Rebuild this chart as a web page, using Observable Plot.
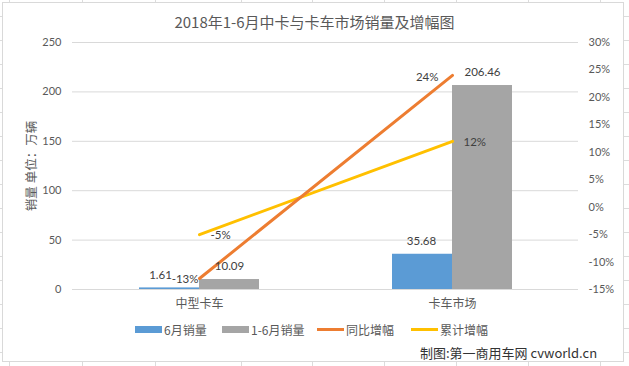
<!DOCTYPE html>
<html>
<head>
<meta charset="utf-8">
<script src="https://cdn.jsdelivr.net/npm/d3@7"></script>
<script src="https://cdn.jsdelivr.net/npm/@observablehq/plot@0.6"></script>
<style>
  body { margin: 0; background: #fff; }
  #wrap { position: relative; width: 629px; height: 366px; overflow: hidden; font-family: Lato, "Noto Sans CJK SC", sans-serif; background: #fff; }
  .gl { position: absolute; background: #dcdcdc; }
  #card { position: absolute; left: 2px; top: 2px; width: 620px; height: 358px; border: 1px solid #d9d9d9; background: #fff; }
  #chart { position: absolute; left: 0; top: 0; }
  #title { position: absolute; left: 0; width: 629px; top: 11px; text-align: center; font-size: 15px; color: #595959; font-family: "Noto Sans CJK SC", sans-serif; line-height: 22px; }
  #ylabel { position: absolute; left: 30px; top: 166px; transform: translate(-50%, -50%) rotate(-90deg); white-space: nowrap; font-size: 12.5px; color: #595959; font-family: "Noto Sans CJK SC", sans-serif; }
  #legend { position: absolute; top: 320px; left: 0; height: 18px; }
  .lg { position: absolute; top: 0; height: 18px; display: flex; align-items: center; font-size: 12px; color: #595959; font-family: "Noto Sans CJK SC", sans-serif; white-space: nowrap; }
  .sw { width: 27px; margin-right: 2px; }
  #footer { position: absolute; left: 420px; top: 343px; font-size: 13px; color: #333; font-family: "Noto Sans CJK SC", sans-serif; white-space: nowrap; line-height: 20px; }
</style>
</head>
<body>
<div id="wrap">
  <div id="bg"></div>
  <div id="card"></div>
  <div id="chart"></div>
  <div id="title"></div>
  <div id="ylabel"></div>
  <div id="legend"></div>
  <div id="footer"></div>
</div>
<script>
// ---- data ----
const titleText = "2018年1-6月中卡与卡车市场销量及增幅图";
const yAxisTitle = "销量 单位：万辆";
const footerText = "制图:第一商用车网 cvworld.cn";
const categories = ["中型卡车", "卡车市场"];
const juneSales = [1.61, 35.68];
const h1Sales = [10.09, 206.46];
const yoyGrowth = [-13, 24];
const cumGrowth = [-5, 12];
const leftTicks = [0, 50, 100, 150, 200, 250];
const rightTicks = [-15, -10, -5, 0, 5, 10, 15, 20, 25, 30];
const seriesNames = ["6月销量", "1-6月销量", "同比增幅", "累计增幅"];
const seriesColors = ["#5B9BD5", "#A5A5A5", "#ED7D31", "#FFC000"];

// ---- background spreadsheet grid (decoration) ----
const bg = document.getElementById("bg");
[9, 82, 155, 241, 312, 384, 456, 528, 600].forEach(x => {
  const d = document.createElement("div"); d.className = "gl";
  Object.assign(d.style, { left: x + "px", top: "0px", width: "1px", height: "366px" }); bg.appendChild(d);
});
for (let y = 16; y < 366; y += 24) {
  const d = document.createElement("div"); d.className = "gl";
  Object.assign(d.style, { left: "0px", top: y + "px", width: "629px", height: "1px" }); bg.appendChild(d);
}

document.getElementById("title").textContent = titleText;
document.getElementById("ylabel").textContent = yAxisTitle;
document.getElementById("footer").textContent = footerText;

// legend
const legendX = [135, 222, 317, 411];
const lg = document.getElementById("legend");
seriesNames.forEach((name, i) => {
  const item = document.createElement("div"); item.className = "lg";
  item.style.left = legendX[i] + "px";
  const sw = document.createElement("div"); sw.className = "sw";
  sw.style.background = seriesColors[i];
  sw.style.height = i < 2 ? "7px" : "3px";
  const tx = document.createElement("span"); tx.textContent = name;
  item.appendChild(sw); item.appendChild(tx); lg.appendChild(item);
});

// ---- chart ----
const rows = categories.map((c, i) => ({ cat: c, june: juneSales[i], h1: h1Sales[i], yoy: yoyGrowth[i], cum: cumGrowth[i] }));
const toY = p => (p + 15) * 250 / 45;
const fromY = v => Math.round(v * 45 / 250 - 15);
const half = 60;

const chart = Plot.plot({
  width: 629, height: 366,
  marginTop: 42, marginBottom: 77, marginLeft: 72, marginRight: 51,
  x: { domain: categories, paddingInner: 0.526, paddingOuter: 0.263 },
  y: { domain: [0, 250] },
  style: { fontFamily: "Lato, 'Noto Sans CJK SC', sans-serif", fontSize: "11px", color: "#595959", background: "transparent" },
  marks: [
    Plot.gridY(leftTicks, { stroke: "#D9D9D9", strokeOpacity: 1 }),
    Plot.axisY(leftTicks, { anchor: "left", tickSize: 0, tickPadding: 11, label: null, fill: "#595959" }),
    Plot.axisY(rightTicks.map(toY), { anchor: "right", tickSize: 0, tickPadding: 10, label: null, fill: "#595959", tickFormat: v => fromY(v) + "%" }),
    Plot.axisX({ tickSize: 0, tickPadding: 10, label: null, fontSize: 12, fill: "#595959", fontFamily: "Noto Sans CJK SC, sans-serif" }),
    Plot.barY(rows, { x: "cat", y: "june", fill: seriesColors[0], insetRight: half }),
    Plot.barY(rows, { x: "cat", y: "h1", fill: seriesColors[1], insetLeft: half }),
    Plot.line(rows, { x: "cat", y: d => toY(d.cum), stroke: seriesColors[3], strokeWidth: 3 }),
    Plot.line(rows, { x: "cat", y: d => toY(d.yoy), stroke: seriesColors[2], strokeWidth: 3 }),
    Plot.text(rows.slice(0, 1), { x: "cat", y: "june", text: d => d.june.toFixed(2), dx: -39, dy: -13, fontSize: 11.5, fill: "#404040" }),
    Plot.text(rows.slice(1), { x: "cat", y: "june", text: d => d.june.toFixed(2), dx: -31, dy: -13, fontSize: 11.5, fill: "#404040" }),
    Plot.text(rows, { x: "cat", y: "h1", text: d => d.h1.toFixed(2), dx: 30, dy: -13, fontSize: 11.5, fill: "#404040" }),
    Plot.text(rows.slice(0, 1), { x: "cat", y: d => toY(d.yoy), text: d => d.yoy + "%", dx: -1, dy: 1, textAnchor: "end", fontSize: 11.5, fill: "#404040" }),
    Plot.text(rows.slice(1), { x: "cat", y: d => toY(d.yoy), text: d => d.yoy + "%", dx: -14, dy: 2, textAnchor: "end", fontSize: 11.5, fill: "#404040" }),
    Plot.text(rows, { x: "cat", y: d => toY(d.cum), text: d => d.cum + "%", dx: 11, dy: 1, textAnchor: "start", fontSize: 11.5, fill: "#404040" })
  ]
});
document.getElementById("chart").appendChild(chart);
</script>
</body>
</html>
